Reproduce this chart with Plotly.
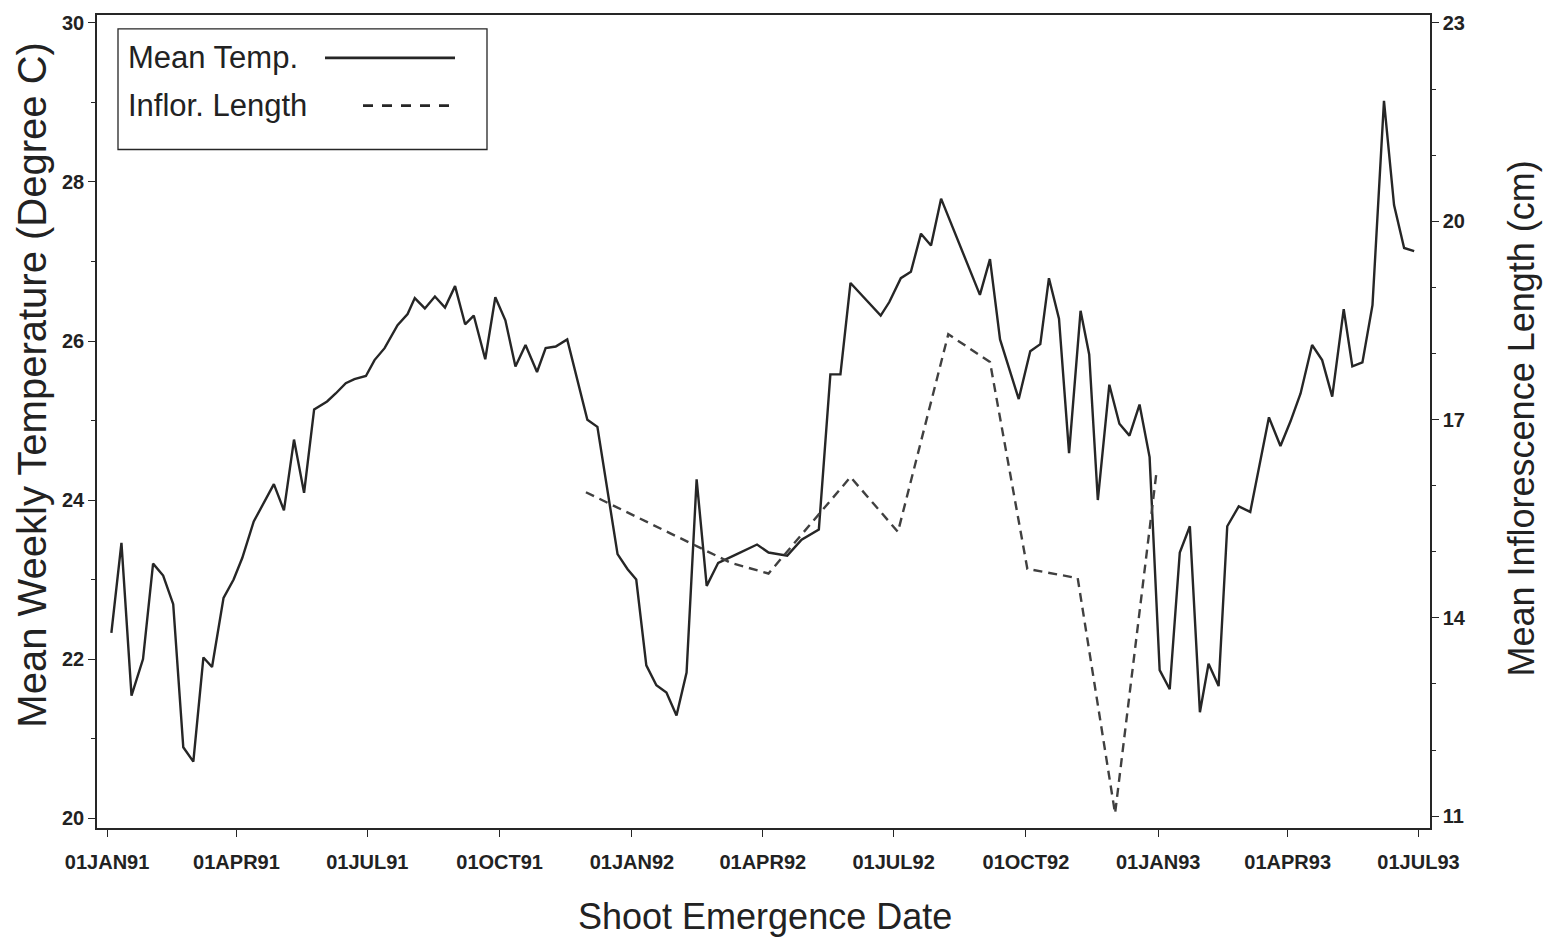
import plotly.graph_objects as go

# ---- Data ----
temp_dates = [
    "1991-01-04", "1991-01-11", "1991-01-18", "1991-01-26", "1991-02-02", "1991-02-09",
    "1991-02-16", "1991-02-23", "1991-03-02", "1991-03-09", "1991-03-15", "1991-03-23",
    "1991-03-30", "1991-04-05", "1991-04-13", "1991-04-20", "1991-04-27", "1991-05-04",
    "1991-05-11", "1991-05-18", "1991-05-25", "1991-06-03", "1991-06-09", "1991-06-16",
    "1991-06-22", "1991-06-30", "1991-07-06", "1991-07-13", "1991-07-22", "1991-07-29",
    "1991-08-03", "1991-08-10", "1991-08-17", "1991-08-24", "1991-08-31", "1991-09-07",
    "1991-09-13", "1991-09-21", "1991-09-28", "1991-10-05", "1991-10-12", "1991-10-19",
    "1991-10-27", "1991-11-02", "1991-11-09", "1991-11-17", "1991-12-01", "1991-12-08",
    "1991-12-22", "1991-12-29", "1992-01-04", "1992-01-11", "1992-01-18", "1992-01-25",
    "1992-02-01", "1992-02-08", "1992-02-15", "1992-02-22", "1992-03-01", "1992-03-14",
    "1992-03-28", "1992-04-05", "1992-04-18", "1992-04-28", "1992-05-10", "1992-05-18",
    "1992-05-25", "1992-06-01", "1992-06-22", "1992-06-28", "1992-07-06", "1992-07-13",
    "1992-07-20", "1992-07-27", "1992-08-03", "1992-08-30", "1992-09-06", "1992-09-13",
    "1992-09-26", "1992-10-04", "1992-10-11", "1992-10-17", "1992-10-24", "1992-10-31",
    "1992-11-08", "1992-11-14", "1992-11-20", "1992-11-28", "1992-12-05", "1992-12-12",
    "1992-12-19", "1992-12-26", "1993-01-02", "1993-01-09", "1993-01-16", "1993-01-23",
    "1993-01-30", "1993-02-05", "1993-02-12", "1993-02-18", "1993-02-26", "1993-03-06",
    "1993-03-19", "1993-03-27", "1993-04-03", "1993-04-10", "1993-04-18", "1993-04-25",
    "1993-05-02", "1993-05-10", "1993-05-16", "1993-05-23", "1993-05-30", "1993-06-07",
    "1993-06-14", "1993-06-21", "1993-06-28",
]
temp_values = [
    22.33, 23.46, 21.54, 22.00, 23.20, 23.05,
    22.69, 20.89, 20.71, 22.02, 21.90, 22.77,
    23.00, 23.27, 23.73, 23.97, 24.20, 23.87,
    24.76, 24.09, 25.14, 25.24, 25.34, 25.47,
    25.52, 25.56, 25.76, 25.91, 26.20, 26.34,
    26.54, 26.41, 26.56, 26.42, 26.69, 26.21,
    26.32, 25.77, 26.55, 26.26, 25.68, 25.95,
    25.61, 25.91, 25.93, 26.02, 25.01, 24.92,
    23.32, 23.13, 23.00, 21.92, 21.67, 21.58,
    21.29, 21.83, 24.26, 22.92, 23.21, 23.32,
    23.44, 23.34, 23.30, 23.50, 23.63, 25.58,
    25.58, 26.73, 26.32, 26.49, 26.79, 26.87,
    27.35, 27.20, 27.79, 26.58, 27.03, 26.02,
    25.27, 25.87, 25.96, 26.79, 26.28, 24.59,
    26.38, 25.83, 24.00, 25.45, 24.96, 24.81,
    25.20, 24.54, 21.86, 21.62, 23.34, 23.67,
    21.33, 21.94, 21.66, 23.67, 23.92, 23.85,
    25.04, 24.68, 24.99, 25.34, 25.95, 25.76,
    25.30, 26.40, 25.68, 25.73, 26.45, 29.02,
    27.71, 27.17, 27.13,
]

length_dates = [
    "1991-11-30", "1992-03-10", "1992-04-05", "1992-06-01", "1992-07-04", "1992-08-08",
    "1992-09-06", "1992-10-02", "1992-11-06", "1992-12-02", "1992-12-31",
]
length_values = [15.90, 14.83, 14.67, 16.13, 15.30, 18.29, 17.87, 14.74, 14.60, 11.04, 16.24]

x_tick_dates = ["1991-01-01", "1991-04-01", "1991-07-01", "1991-10-01", "1992-01-01",
                "1992-04-01", "1992-07-01", "1992-10-01", "1993-01-01", "1993-04-01", "1993-07-01"]
x_tick_labels = ["01JAN91", "01APR91", "01JUL91", "01OCT91", "01JAN92", "01APR92",
                 "01JUL92", "01OCT92", "01JAN93", "01APR93", "01JUL93"]
left_ticks = [20, 22, 24, 26, 28, 30]
right_ticks = [11, 14, 17, 20, 23]

FONT = "Liberation Sans, Arial, Helvetica, sans-serif"
INK = "#262626"
TICKFONT = dict(family=FONT, size=20, color="#222", weight="bold")

fig = go.Figure()
fig.add_trace(go.Scatter(x=temp_dates, y=temp_values, mode="lines", name="Mean Temp.",
                         line=dict(color=INK, width=2.4), yaxis="y", showlegend=False))
fig.add_trace(go.Scatter(x=length_dates, y=length_values, mode="lines", name="Inflor. Length",
                         line=dict(color="#404040", width=2.4, dash="9px,6px"), yaxis="y2",
                         showlegend=False))

axis_common = dict(showgrid=False, zeroline=False, showline=True, linecolor=INK, linewidth=1.5,
                   ticks="outside", ticklen=7, tickwidth=1.2, tickcolor=INK, tickfont=TICKFONT)

fig.update_layout(
    width=1550, height=939, autosize=False,
    paper_bgcolor="white", plot_bgcolor="white",
    margin=dict(l=97, r=120, t=12, b=111),
    xaxis=dict(**axis_common, type="date", range=["1990-12-25", "1993-07-09"],
               tickvals=x_tick_dates, ticktext=x_tick_labels, mirror=True,
               ticklabelstandoff=8),
    yaxis=dict(**axis_common, range=[19.875, 30.1], tickvals=left_ticks, mirror=True,
               minor=dict(dtick=1, ticks="outside", ticklen=4, tickcolor=INK)),
    yaxis2=dict(**axis_common, range=[10.82, 23.12], tickvals=right_ticks, overlaying="y",
                side="right", minor=dict(dtick=1, ticks="outside", ticklen=4, tickcolor=INK)),
)

# Legend box drawn by hand (text on the left, line sample on the right)
def px_x(x):
    return (x - 97) / 1333.0

def px_y(y):
    return (828 - y) / 816.0

fig.add_shape(type="rect", xref="paper", yref="paper", x0=px_x(118), x1=px_x(487),
              y0=px_y(147), y1=px_y(26), line=dict(color=INK, width=1.3), fillcolor="white")
fig.add_shape(type="line", xref="paper", yref="paper", x0=px_x(325), x1=px_x(455),
              y0=px_y(55), y1=px_y(55), line=dict(color=INK, width=2.8))
fig.add_shape(type="line", xref="paper", yref="paper", x0=px_x(363), x1=px_x(458),
              y0=px_y(103), y1=px_y(103), line=dict(color=INK, width=2.8, dash="10px,9px"))
fig.add_annotation(text="Mean Temp.", xref="paper", yref="paper", x=px_x(126), y=px_y(55),
                   xanchor="left", yanchor="middle", showarrow=False,
                   font=dict(family=FONT, size=31, color="#222"))
fig.add_annotation(text="Inflor. Length", xref="paper", yref="paper", x=px_x(126), y=px_y(103),
                   xanchor="left", yanchor="middle", showarrow=False,
                   font=dict(family=FONT, size=31, color="#222"))

# Axis titles
fig.add_annotation(text="Mean Weekly Temperature (Degree C)", xref="paper", yref="paper",
                   x=px_x(32), y=px_y(384), textangle=-90, showarrow=False,
                   xanchor="center", yanchor="middle", font=dict(family=FONT, size=40, color="#222"))
fig.add_annotation(text="Mean Inflorescence Length (cm)", xref="paper", yref="paper",
                   x=px_x(1522), y=px_y(417), textangle=-90, showarrow=False,
                   xanchor="center", yanchor="middle", font=dict(family=FONT, size=36, color="#222"))
fig.add_annotation(text="Shoot Emergence Date", xref="paper", yref="paper",
                   x=px_x(765), y=px_y(917), showarrow=False,
                   xanchor="center", yanchor="middle", font=dict(family=FONT, size=36, color="#222"))

fig.write_html("out.html", config={"displayModeBar": False},
               post_script="document.body.style.margin='0';")
